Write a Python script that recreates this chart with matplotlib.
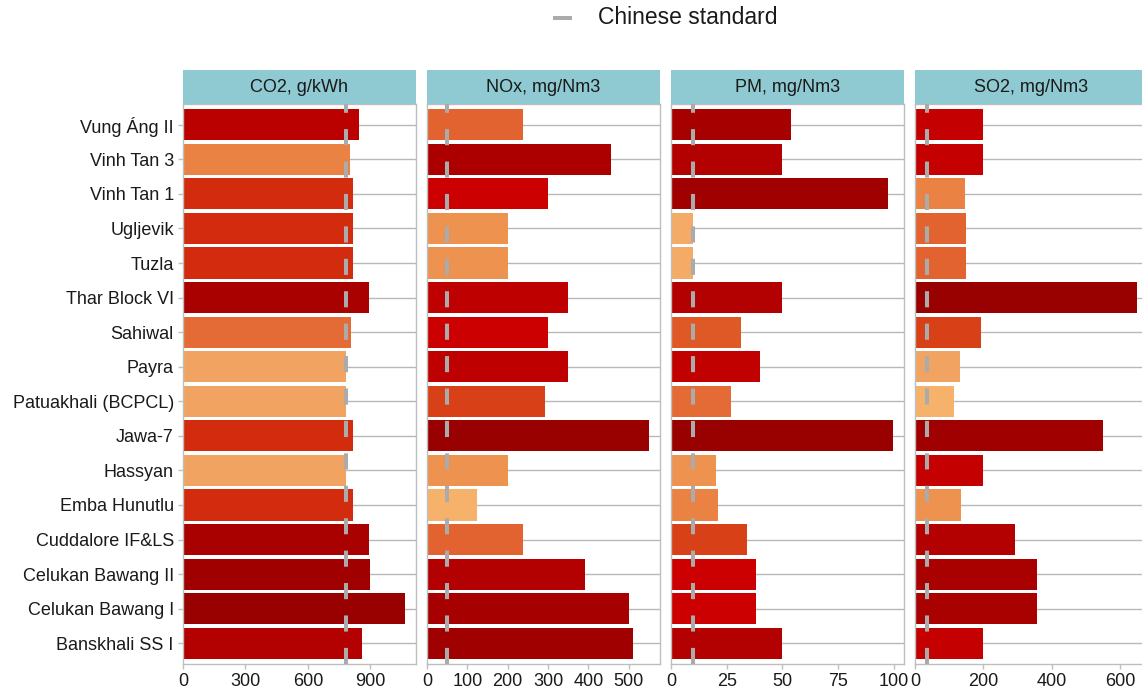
import numpy as np
import pandas as pd
import matplotlib
matplotlib.use("Agg")
import matplotlib.pyplot as plt
from matplotlib.colors import LinearSegmentedColormap
from matplotlib.lines import Line2D

plt.rcParams['font.family'] = ['Liberation Sans', 'DejaVu Sans']

# data, top to bottom as in the chart
plants = ["Vung Áng II", "Vinh Tan 3", "Vinh Tan 1", "Ugljevik", "Tuzla",
          "Thar Block VI", "Sahiwal", "Payra", "Patuakhali (BCPCL)", "Jawa-7",
          "Hassyan", "Emba Hunutlu", "Cuddalore IF&LS", "Celukan Bawang II",
          "Celukan Bawang I", "Banskhali SS I"]
co2 = [847, 800, 819, 819, 819, 894, 806, 782, 782, 819, 782, 819, 894, 899, 1066, 859]
nox = [237, 455, 300, 200, 200, 350, 300, 350, 293, 550, 200, 123, 237, 391, 500, 510]
pm = [54, 50, 97.6, 10, 10, 50, 31.5, 40, 27, 99.7, 20, 21, 34, 38, 38, 50]
so2 = [200, 200, 145, 150, 150, 650, 194, 132, 115, 550, 200, 135, 294, 356, 356, 200]
titles = ["CO2, g/kWh", "NOx, mg/Nm3", "PM, mg/Nm3", "SO2, mg/Nm3"]
standards = [782, 50, 10, 35]
ticks = [[0, 300, 600, 900], [0, 100, 200, 300, 400, 500],
         [0, 25, 50, 75, 100], [0, 200, 400, 600]]

cmap = LinearSegmentedColormap.from_list("emis", [
    (0.00, "#F6B26B"), (0.07, "#F1A362"), (0.13, "#EE9350"), (0.20, "#E98242"),
    (0.27, "#E46A35"), (0.33, "#DF5A28"), (0.40, "#D84018"), (0.47, "#D32A0E"),
    (0.50, "#CC0000"), (0.57, "#C40000"), (0.67, "#BB0000"), (0.73, "#B30000"),
    (0.80, "#AC0000"), (0.87, "#A60000"), (0.93, "#A00000"), (1.00, "#990000")])

W, H = 1142, 694
fig = plt.figure(figsize=(W / 100, H / 100), dpi=100)

grey = "#BEBEBE"
y = np.arange(len(plants))
for i, vals in enumerate([co2, nox, pm, so2]):
    left = 183 + i * 244
    ax = fig.add_axes([left / W, (H - 664) / H, 233 / W, 560 / H])
    ranks = pd.Series(vals).rank() - 1
    colors = cmap(ranks / (len(vals) - 1))
    for yy in y:
        ax.axhline(yy, color="#B8B8B8", lw=1.0, zorder=0)
    ax.barh(y, vals, height=0.9, color=colors, zorder=2)
    ax.plot([standards[i], standards[i]], [15.6, -0.6], color="#ABABAB", lw=2.9,
            ls=(0, (4, 4.05)), zorder=3)
    ax.set_xlim(0, max(vals) * 1.05)
    ax.set_ylim(15.6, -0.6)
    ax.set_xticks(ticks[i])
    ax.set_yticks(y)
    if i == 0:
        ax.set_yticklabels(plants)
    else:
        ax.tick_params(axis="y", left=False, labelleft=False)
    ax.tick_params(axis="both", length=3.6, width=1, color=grey,
                   labelcolor="#1A1A1A", labelsize=13, pad=3)
    for s in ax.spines.values():
        s.set_color(grey)
        s.set_linewidth(1.0)

    strip = fig.add_axes([left / W, (H - 104) / H, 233 / W, 34 / H])
    strip.set_facecolor("#8FC9D1")
    strip.set_xticks([])
    strip.set_yticks([])
    for s in strip.spines.values():
        s.set_visible(False)
    strip.text(0.5, 0.5, titles[i], ha="center", va="center", fontsize=13,
               color="#1A1A1A", transform=strip.transAxes)

# legend
fig.add_artist(Line2D([555 / W, 570 / W], [(H - 18) / H, (H - 18) / H],
                      transform=fig.transFigure, color="#ABABAB", lw=2.9))
fig.text(598 / W, (H - 18) / H, "Chinese standard", ha="left", va="center",
         fontsize=16.5, color="#1A1A1A")

fig.savefig("out.png", dpi=100)
